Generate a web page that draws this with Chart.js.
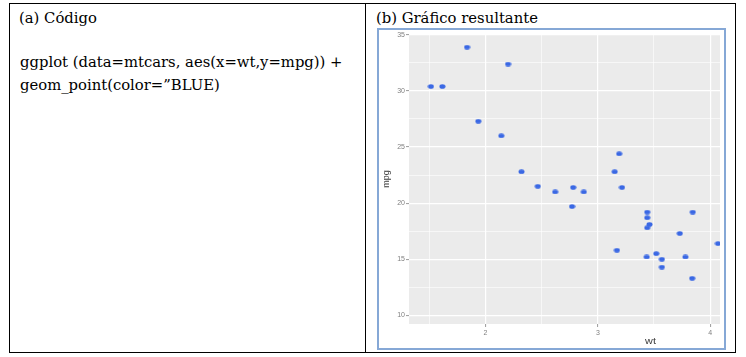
<!DOCTYPE html>
<html><head><meta charset="utf-8">
<script src="https://cdn.jsdelivr.net/npm/chart.js@4"></script>
<style>
html,body{margin:0;padding:0;background:#fff;width:746px;height:357px;overflow:hidden;}
.ln{position:absolute;background:#000;}
.tx{position:absolute;font-family:"DejaVu Serif",serif;font-size:14.8px;line-height:17px;color:#000;white-space:pre;}
#frame{position:absolute;left:377px;top:28px;width:349px;height:322px;box-sizing:border-box;border:2px solid #86a8d6;background:#fff;}
#c{position:absolute;left:0;top:0;}
</style></head><body>
<div class="ln" style="left:9px;top:3px;width:727px;height:1px"></div>
<div class="ln" style="left:9px;top:352px;width:727px;height:1px"></div>
<div class="ln" style="left:9px;top:3px;width:1px;height:350px"></div>
<div class="ln" style="left:735px;top:3px;width:1px;height:350px"></div>
<div class="ln" style="left:365px;top:3px;width:1px;height:350px"></div>
<div class="tx" style="left:19px;top:8.6px">(a) Código</div>
<div class="tx" style="left:20px;top:52.8px">ggplot (data=mtcars, aes(x=wt,y=mpg)) +</div>
<div class="tx" style="left:20px;top:75.8px">geom_point(color=”BLUE)</div>
<div class="tx" style="left:376px;top:8.6px">(b) Gráfico resultante</div>
<div id="frame"><canvas id="c" width="345" height="318"></canvas></div>
<script>
// data (points visible in the cropped plot)
const wt  = [2.620, 2.875, 2.320, 3.215, 3.440, 3.460, 3.570, 3.190, 3.150, 3.440, 3.440, 4.070, 3.730, 3.780, 2.200, 1.615, 1.835, 2.465, 3.520, 3.435, 3.840, 3.845, 1.935, 2.140, 1.513, 3.170, 2.770, 3.570, 2.780];
const mpg = [21.0, 21.0, 22.8, 21.4, 18.7, 18.1, 14.3, 24.4, 22.8, 19.2, 17.8, 16.4, 17.3, 15.2, 32.4, 30.4, 33.9, 21.5, 15.5, 15.2, 13.3, 19.2, 27.3, 26.0, 30.4, 15.8, 19.7, 15.0, 21.4];
const xMajorTicks = [2, 3, 4];
const xMinorTicks = [1.5, 2.5, 3.5];
const yMajorTicks = [10, 15, 20, 25, 30, 35];
const yMinorTicks = [12.5, 17.5, 22.5, 27.5, 32.5];
const xRange = [1.318, 4.088];
const yRange = [9.225, 35.075];
const xTitleCenter = 3.469;
const xTitle = 'wt';
const yTitle = 'mpg';

const dot = document.createElement('canvas');
dot.width = 7; dot.height = 5;
const g = dot.getContext('2d');
g.fillStyle = '#3a68e4';
g.beginPath(); g.ellipse(3.5, 2.5, 3.0, 2.35, 0, 0, Math.PI * 2); g.fill();

const tickFont = {family: 'Liberation Sans', size: 7};
const isMajor = (list, v) => list.some(m => Math.abs(m - v) < 1e-9);

function gridFor(majors) {
  return {
    color: '#ffffff',
    lineWidth: c => (c.tick && isMajor(majors, c.tick.value)) ? 1.2 : 0.6,
    tickLength: 3,
    tickWidth: 1,
    tickColor: c => (c.tick && isMajor(majors, c.tick.value)) ? '#9a9a9a' : 'rgba(0,0,0,0)'
  };
}

const panelBg = {
  id: 'panelBg',
  beforeDraw(chart) {
    const {ctx, chartArea: a} = chart;
    ctx.save();
    ctx.fillStyle = '#ebebeb';
    ctx.fillRect(a.left, a.top, a.right - a.left, a.bottom - a.top);
    ctx.restore();
  }
};
const xTitlePlugin = {
  id: 'xTitlePlugin',
  afterDraw(chart) {
    const {ctx, chartArea: a} = chart;
    const x = chart.scales.x.getPixelForValue(xTitleCenter);
    ctx.save();
    ctx.translate(x, a.bottom + 18);
    ctx.scale(1.2, 1);
    ctx.font = '9px "Liberation Sans"';
    ctx.fillStyle = '#3a3a3a';
    ctx.textAlign = 'center';
    ctx.textBaseline = 'middle';
    ctx.fillText(xTitle, 0, 0);
    ctx.restore();
  }
};

new Chart(document.getElementById('c'), {
  type: 'scatter',
  data: {
    datasets: [{
      data: wt.map((x, i) => ({x: x, y: mpg[i]})),
      pointStyle: dot,
      pointRadius: 3,
      backgroundColor: '#3a68e4',
      borderWidth: 0
    }]
  },
  options: {
    responsive: false,
    animation: false,
    events: [],
    layout: {padding: {top: 3, left: 0, right: 0, bottom: 0}},
    plugins: {legend: {display: false}, tooltip: {enabled: false}},
    scales: {
      x: {
        type: 'linear', position: 'bottom',
        min: xRange[0], max: xRange[1],
        afterBuildTicks: s => { s.ticks = [...xMinorTicks, ...xMajorTicks].sort((a, b) => a - b).map(v => ({value: v})); },
        ticks: {autoSkip: false, maxRotation: 0, minRotation: 0, padding: 2, font: tickFont, color: '#808080',
                callback: v => isMajor(xMajorTicks, v) ? String(v) : ''},
        grid: gridFor(xMajorTicks),
        border: {display: false},
        afterFit: s => { s.height = 24; s.paddingLeft = 0; s.paddingRight = 0; }
      },
      y: {
        type: 'linear', position: 'left',
        min: yRange[0], max: yRange[1],
        afterBuildTicks: s => { s.ticks = [...yMinorTicks, ...yMajorTicks].sort((a, b) => a - b).map(v => ({value: v})); },
        ticks: {autoSkip: false, padding: 1, font: tickFont, color: '#808080',
                callback: v => isMajor(yMajorTicks, v) ? String(v) : ''},
        grid: gridFor(yMajorTicks),
        border: {display: false},
        title: {display: true, text: yTitle, color: '#3a3a3a', font: {family: 'Liberation Sans', size: 9}, padding: {top: 2, bottom: 0}},
        afterFit: s => { s.width = 30; s.paddingTop = 0; s.paddingBottom = 0; }
      }
    }
  },
  plugins: [panelBg, xTitlePlugin]
});
</script>
</body></html>
